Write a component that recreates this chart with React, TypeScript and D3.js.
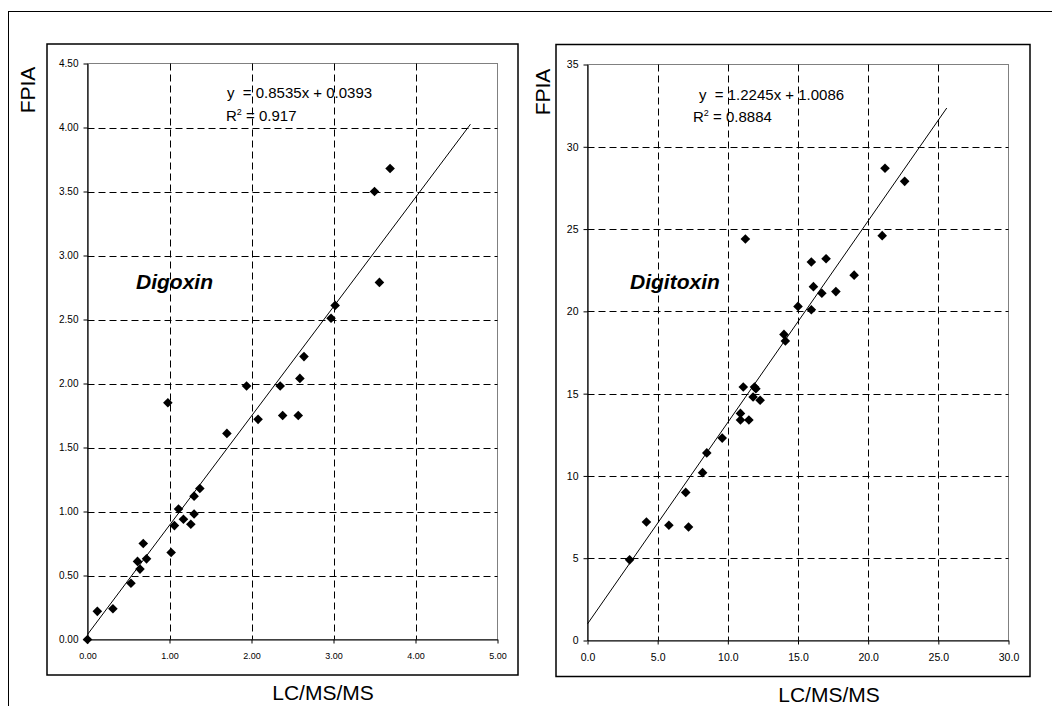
import React, { useEffect, useRef } from 'react';
import * as d3 from 'd3';

// Digoxin: LC/MS/MS (x) vs FPIA (y)
const digoxinLcms = [0, 0.12, 0.31, 0.53, 0.64, 0.61, 0.68, 0.72, 1.02, 1.06, 1.11, 1.17, 1.26, 1.3, 1.3, 1.37, 0.98, 1.7, 1.94, 2.08, 2.35, 2.38, 2.57, 2.59, 2.64, 2.97, 3.02, 3.5, 3.56, 3.69];
const digoxinFpia = [0, 0.22, 0.24, 0.44, 0.55, 0.61, 0.75, 0.63, 0.68, 0.89, 1.02, 0.94, 0.9, 0.98, 1.12, 1.18, 1.85, 1.61, 1.98, 1.72, 1.98, 1.75, 1.75, 2.04, 2.21, 2.51, 2.61, 3.5, 2.79, 3.68];
const digoxinXTicks = [0, 1, 2, 3, 4, 5];
const digoxinYTicks = [0, 0.5, 1, 1.5, 2, 2.5, 3, 3.5, 4, 4.5];
const digoxinFit = [0.8535, 0.0393]; // slope, intercept
const digoxinFitEnd = 4.67;
const digoxinR2 = '0.917';

// Digitoxin: LC/MS/MS (x) vs FPIA (y)
const digitoxinLcms = [3.0, 4.2, 5.8, 7.2, 7.0, 8.2, 8.5, 9.6, 10.9, 10.9, 11.5, 11.1, 11.8, 12.3, 11.9, 12.0, 11.25, 14.0, 14.1, 15.0, 15.95, 16.1, 16.7, 17.7, 15.95, 17.0, 19.0, 21.0, 21.2, 22.6];
const digitoxinFpia = [4.9, 7.2, 7.0, 6.9, 9.0, 10.2, 11.4, 12.3, 13.8, 13.4, 13.4, 15.4, 14.8, 14.6, 15.4, 15.3, 24.4, 18.6, 18.2, 20.3, 20.1, 21.5, 21.1, 21.2, 23.0, 23.2, 22.2, 24.6, 28.7, 27.9];
const digitoxinXTicks = [0, 5, 10, 15, 20, 25, 30];
const digitoxinYTicks = [0, 5, 10, 15, 20, 25, 30, 35];
const digitoxinFit = [1.2245, 1.0086];
const digitoxinFitEnd = 25.6;
const digitoxinR2 = '0.8884';

const FONT = 'Arial, "Liberation Sans", sans-serif';

const panels = [
  {
    name: 'Digoxin',
    xs: digoxinLcms, ys: digoxinFpia,
    xTicks: digoxinXTicks, yTicks: digoxinYTicks,
    xFmt: d3.format('.2f'), yFmt: d3.format('.2f'),
    fit: digoxinFit, fitEnd: digoxinFitEnd, r2: digoxinR2,
    box: { x: 47, y: 44, w: 471, h: 631 },
    plot: { l: 87.5, r: 497.5, t: 63.5, b: 639.5 },
    xTickFont: 9, yTickFont: 10,
    yTitle: [27, 90], xTitle: [323, 700],
    eq: [227, 98], r2Pos: [226, 121], label: [136, 289],
  },
  {
    name: 'Digitoxin',
    xs: digitoxinLcms, ys: digitoxinFpia,
    xTicks: digitoxinXTicks, yTicks: digitoxinYTicks,
    xFmt: d3.format('.1f'), yFmt: d3.format('d'),
    fit: digitoxinFit, fitEnd: digitoxinFitEnd, r2: digitoxinR2,
    box: { x: 556, y: 44.5, w: 474, h: 632 },
    plot: { l: 587.5, r: 1008.5, t: 64.5, b: 640.5 },
    xTickFont: 10.5, yTickFont: 10.5,
    yTitle: [542, 92], xTitle: [829, 702],
    eq: [699, 100], r2Pos: [693, 122], label: [630, 289],
  },
];

function drawPanel(svg, p) {
  const g = svg.append('g');
  const { plot } = p;

  g.append('rect')
    .attr('x', p.box.x).attr('y', p.box.y)
    .attr('width', p.box.w).attr('height', p.box.h)
    .attr('fill', '#fff').attr('stroke', '#000').attr('stroke-width', 1.5);

  const x = d3.scaleLinear()
    .domain([p.xTicks[0], p.xTicks[p.xTicks.length - 1]])
    .range([plot.l, plot.r]);
  const y = d3.scaleLinear()
    .domain([p.yTicks[0], p.yTicks[p.yTicks.length - 1]])
    .range([plot.b, plot.t]);

  // plot area border
  g.append('rect')
    .attr('x', plot.l).attr('y', plot.t)
    .attr('width', plot.r - plot.l).attr('height', plot.b - plot.t)
    .attr('fill', 'none').attr('stroke', '#808080');

  // dashed gridlines
  g.selectAll('.vgrid')
    .data(p.xTicks.slice(1, -1))
    .join('line')
    .attr('x1', d => Math.round(x(d)) + 0.5).attr('x2', d => Math.round(x(d)) + 0.5)
    .attr('y1', plot.t).attr('y2', plot.b)
    .attr('stroke', '#000').attr('stroke-dasharray', '7,4');
  g.selectAll('.hgrid')
    .data(p.yTicks.slice(1, -1))
    .join('line')
    .attr('y1', d => Math.round(y(d)) + 0.5).attr('y2', d => Math.round(y(d)) + 0.5)
    .attr('x1', plot.l).attr('x2', plot.r)
    .attr('stroke', '#000').attr('stroke-dasharray', '7,4');

  // axes
  const xAxis = g.append('g')
    .attr('transform', `translate(0,${plot.b})`)
    .call(d3.axisBottom(x).tickValues(p.xTicks).tickFormat(p.xFmt)
      .tickSizeInner(4).tickSizeOuter(0).tickPadding(9.5));
  const yAxis = g.append('g')
    .attr('transform', `translate(${plot.l},0)`)
    .call(d3.axisLeft(y).tickValues(p.yTicks).tickFormat(p.yFmt)
      .tickSizeInner(4).tickSizeOuter(0).tickPadding(5));
  [xAxis, yAxis].forEach(a => {
    a.select('.domain').attr('stroke', '#000').attr('stroke-width', 1.2);
    a.selectAll('line').attr('stroke', '#000');
    a.selectAll('text').attr('fill', '#000').style('font-family', FONT);
  });
  xAxis.selectAll('text').style('font-size', `${p.xTickFont}px`);
  yAxis.selectAll('text').style('font-size', `${p.yTickFont}px`);

  // regression line
  const line = d3.line<number>()
    .x(d => x(d))
    .y(d => y(p.fit[0] * d + p.fit[1]));
  g.append('path')
    .datum([0, p.fitEnd])
    .attr('d', line)
    .attr('fill', 'none').attr('stroke', '#000').attr('stroke-width', 1);

  // diamond markers
  const r = 4.8;
  g.selectAll('.pt')
    .data(p.xs.map((v, i) => [v, p.ys[i]]))
    .join('path')
    .attr('d', d => {
      const cx = x(d[0]);
      const cy = y(d[1]);
      return `M${cx},${cy - r}L${cx + r},${cy}L${cx},${cy + r}L${cx - r},${cy}Z`;
    })
    .attr('fill', '#000');

  // titles
  g.append('text')
    .attr('transform', `translate(${p.yTitle[0]},${p.yTitle[1]}) rotate(-90)`)
    .attr('text-anchor', 'middle').attr('dominant-baseline', 'central')
    .style('font-family', FONT).style('font-size', '21px')
    .text('FPIA');
  g.append('text')
    .attr('x', p.xTitle[0]).attr('y', p.xTitle[1])
    .attr('text-anchor', 'middle')
    .style('font-family', FONT).style('font-size', '21px')
    .text('LC/MS/MS');

  // equation and R²
  g.append('text')
    .attr('x', p.eq[0]).attr('y', p.eq[1])
    .style('font-family', FONT).style('font-size', '15px').style('white-space', 'pre')
    .text(`y  = ${p.fit[0]}x + ${p.fit[1]}`);
  const r2 = g.append('text')
    .attr('x', p.r2Pos[0]).attr('y', p.r2Pos[1])
    .style('font-family', FONT).style('font-size', '15px').style('white-space', 'pre');
  r2.append('tspan').text('R');
  r2.append('tspan').attr('dy', -6).style('font-size', '9px').text('2');
  r2.append('tspan').attr('dy', 6).text(` = ${p.r2}`);

  g.append('text')
    .attr('x', p.label[0]).attr('y', p.label[1])
    .style('font-family', FONT).style('font-size', '21px')
    .style('font-weight', 'bold').style('font-style', 'italic')
    .text(p.name);
}

const App = () => {
  const chartRef = useRef<SVGSVGElement>(null);

  useEffect(() => {
    const svg = d3.select(chartRef.current);
    svg.selectAll('*').remove();

    svg.append('rect').attr('width', 1052).attr('height', 706).attr('fill', '#fff');
    // outer frame, runs off the right and bottom edges
    svg.append('rect')
      .attr('x', 8.5).attr('y', 11.5).attr('width', 1200).attr('height', 1000)
      .attr('fill', 'none').attr('stroke', '#000');

    panels.forEach(p => drawPanel(svg, p));
  }, []);

  return (
    <svg
      ref={chartRef}
      width={1052}
      height={706}
      style={{ position: 'absolute', left: 0, top: 0, display: 'block' }}
    />
  );
};

export default App;
